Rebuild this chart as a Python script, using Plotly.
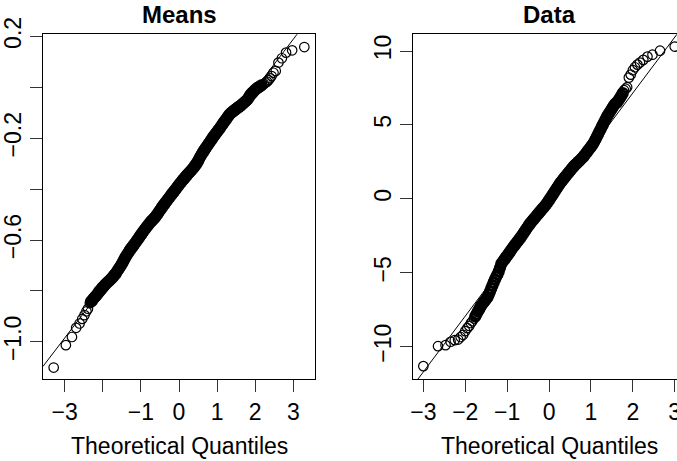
import plotly.graph_objects as go

# ---------------- Means panel (Q-Q points) ----------------
means_theoretical = [
    -3.29, -2.97, -2.81, -2.70, -2.61, -2.54, -2.48, -2.43, -2.39,
    -2.34, -2.31, -2.28, -2.25, -2.22, -2.19, -2.16, -2.13, -2.10, -2.07, -2.04,
    -2.01, -1.98, -1.95, -1.92, -1.89, -1.86, -1.83, -1.80, -1.77, -1.74,
    -1.71, -1.68, -1.65, -1.62, -1.59, -1.56, -1.53, -1.50, -1.47, -1.44,
    -1.41, -1.38, -1.35, -1.32, -1.29, -1.26, -1.23, -1.20, -1.17, -1.14,
    -1.11, -1.08, -1.05, -1.02, -0.99, -0.96, -0.93, -0.90, -0.87, -0.84,
    -0.81, -0.78, -0.75, -0.72, -0.69, -0.66, -0.63, -0.60, -0.57, -0.54,
    -0.51, -0.48, -0.45, -0.42, -0.39, -0.36, -0.33, -0.30, -0.27, -0.24,
    -0.21, -0.18, -0.15, -0.12, -0.09, -0.06, -0.03, 0.00, 0.03, 0.06,
    0.09, 0.12, 0.15, 0.18, 0.21, 0.24, 0.27, 0.30, 0.33, 0.36,
    0.39, 0.42, 0.45, 0.48, 0.51, 0.54, 0.57, 0.60, 0.63, 0.66,
    0.69, 0.72, 0.75, 0.78, 0.81, 0.84, 0.87, 0.90, 0.93, 0.96,
    0.99, 1.02, 1.05, 1.08, 1.11, 1.14, 1.17, 1.20, 1.23, 1.26,
    1.29, 1.32, 1.35, 1.38, 1.41, 1.44, 1.47, 1.50, 1.53, 1.56,
    1.59, 1.62, 1.65, 1.68, 1.71, 1.74, 1.77, 1.80, 1.83, 1.86,
    1.89, 1.92, 1.95, 1.98, 2.01, 2.04, 2.07, 2.10, 2.13, 2.16,
    2.19, 2.23, 2.27, 2.31, 2.35, 2.39, 2.43, 2.48, 2.54, 2.61,
    2.70, 2.81, 2.97, 3.29,
]
means_sample = [
    -1.101, -1.013, -0.981, -0.945, -0.928, -0.910, -0.895, -0.880, -0.870,
    -0.848, -0.842, -0.838, -0.831, -0.826, -0.821, -0.816, -0.810, -0.803, -0.799, -0.793,
    -0.787, -0.783, -0.777, -0.773, -0.768, -0.764, -0.760, -0.755, -0.751, -0.746,
    -0.740, -0.735, -0.730, -0.722, -0.715, -0.708, -0.701, -0.694, -0.686, -0.677,
    -0.669, -0.661, -0.654, -0.647, -0.640, -0.634, -0.628, -0.622, -0.616, -0.610,
    -0.603, -0.597, -0.590, -0.584, -0.578, -0.571, -0.565, -0.559, -0.553, -0.547,
    -0.541, -0.536, -0.530, -0.525, -0.521, -0.516, -0.511, -0.505, -0.499, -0.492,
    -0.485, -0.479, -0.472, -0.466, -0.460, -0.454, -0.448, -0.442, -0.436, -0.430,
    -0.424, -0.418, -0.413, -0.407, -0.401, -0.395, -0.389, -0.383, -0.377, -0.372,
    -0.366, -0.361, -0.356, -0.350, -0.345, -0.340, -0.335, -0.330, -0.325, -0.320,
    -0.314, -0.308, -0.302, -0.295, -0.287, -0.278, -0.270, -0.262, -0.255, -0.248,
    -0.241, -0.235, -0.228, -0.221, -0.215, -0.208, -0.202, -0.195, -0.189, -0.183,
    -0.177, -0.171, -0.165, -0.159, -0.152, -0.146, -0.139, -0.133, -0.127, -0.121,
    -0.114, -0.108, -0.103, -0.099, -0.096, -0.092, -0.089, -0.085, -0.082, -0.078,
    -0.075, -0.072, -0.068, -0.064, -0.060, -0.056, -0.052, -0.047, -0.040, -0.033,
    -0.027, -0.022, -0.018, -0.013, -0.009, -0.005, -0.002, 0.001, 0.004, 0.007,
    0.010, 0.013, 0.018, 0.022, 0.028, 0.035, 0.044, 0.057, 0.064, 0.097,
    0.114, 0.136, 0.145, 0.158,
]
means_line_intercept = -0.398
means_line_slope = 0.1956

# ---------------- Data panel (Q-Q points) ----------------
data_theoretical = [
    -3.00, -2.65, -2.47, -2.35, -2.25, -2.17, -2.11, -2.05, -2.00, -1.95,
    -1.905, -1.865, -1.83, -1.79, -1.76, -1.73, -1.70, -1.67, -1.645, -1.62,
    -1.59, -1.56, -1.53, -1.50, -1.47, -1.44, -1.41, -1.38, -1.35, -1.32,
    -1.29, -1.26, -1.23, -1.20, -1.17, -1.14, -1.11, -1.08, -1.05, -1.02,
    -0.99, -0.96, -0.93, -0.90, -0.87, -0.84, -0.81, -0.78, -0.75, -0.72,
    -0.69, -0.66, -0.63, -0.60, -0.57, -0.54, -0.51, -0.48, -0.45, -0.42,
    -0.39, -0.36, -0.33, -0.30, -0.27, -0.24, -0.21, -0.18, -0.15, -0.12,
    -0.09, -0.06, -0.03, 0.00, 0.03, 0.06, 0.09, 0.12, 0.15, 0.18,
    0.21, 0.24, 0.27, 0.30, 0.33, 0.36, 0.39, 0.42, 0.45, 0.48,
    0.51, 0.54, 0.57, 0.60, 0.63, 0.66, 0.69, 0.72, 0.75, 0.78,
    0.81, 0.84, 0.87, 0.90, 0.93, 0.96, 0.99, 1.02, 1.05, 1.08,
    1.11, 1.14, 1.17, 1.20, 1.23, 1.26, 1.29, 1.32, 1.35, 1.38,
    1.41, 1.44, 1.47, 1.50, 1.53, 1.56, 1.59,
    1.62, 1.645, 1.67, 1.70, 1.73, 1.76, 1.79, 1.83, 1.865, 1.905,
    1.95, 2.00, 2.05, 2.11, 2.17, 2.25, 2.35, 2.47, 2.65, 3.00,
]
data_sample = [
    -11.32, -9.97, -9.90, -9.67, -9.56, -9.52, -9.35, -9.20, -8.95, -8.75,
    -8.60, -8.40, -8.28, -8.10, -7.95, -7.80, -7.62, -7.48, -7.35, -7.22,
    -7.12, -7.00, -6.89, -6.78, -6.67, -6.49, -6.28, -6.06, -5.85, -5.64,
    -5.44, -5.28, -5.11, -4.91, -4.66, -4.40, -4.28, -4.16, -4.05, -3.93,
    -3.81, -3.69, -3.57, -3.45, -3.33, -3.21, -3.10, -2.99, -2.88, -2.77,
    -2.66, -2.53, -2.41, -2.28, -2.16, -2.03, -1.91, -1.78, -1.66, -1.56,
    -1.46, -1.36, -1.26, -1.15, -1.05, -0.95, -0.85, -0.75, -0.65, -0.55,
    -0.45, -0.34, -0.22, -0.09, 0.04, 0.17, 0.30, 0.43, 0.56, 0.69,
    0.82, 0.95, 1.08, 1.18, 1.29, 1.40, 1.50, 1.61, 1.71, 1.82,
    1.92, 2.03, 2.13, 2.23, 2.31, 2.39, 2.48, 2.56, 2.64, 2.73,
    2.81, 2.92, 3.03, 3.14, 3.26, 3.37, 3.48, 3.60, 3.71, 3.86,
    4.03, 4.20, 4.37, 4.54, 4.71, 4.88, 5.04, 5.21, 5.38, 5.55,
    5.69, 5.82, 5.96, 6.09, 6.23, 6.36, 6.46,
    6.50, 6.62, 6.72, 6.85, 7.00, 7.15, 7.35, 7.45, 7.55, 8.20,
    8.40, 8.70, 8.90, 9.08, 9.22, 9.40, 9.62, 9.75, 10.02, 10.30,
]
data_line_intercept = -0.39
data_line_slope = 3.773

# ---------------- axis ticks ----------------
x_ticks = [-3, -2, -1, 0, 1, 2, 3]
means_x_ticktext = ["\u22123", "", "\u22121", "0", "1", "2", "3"]
data_x_ticktext = ["\u22123", "\u22122", "\u22121", "0", "1", "2", "3"]
means_y_ticks = [0.2, 0.0, -0.2, -0.4, -0.6, -0.8, -1.0]
means_y_ticktext = ["0.2", "", "\u22120.2", "", "\u22120.6", "", "\u22121.0"]
data_y_ticks = [-10, -5, 0, 5, 10]
data_y_ticktext = ["\u221210", "\u22125", "0", "5", "10"]

means_x_range = [-3.57, 3.57]
means_y_range = [-1.146, 0.208]
data_x_range = [-3.24, 3.055]
data_y_range = [-12.19, 11.13]

FONT = "Liberation Sans, Arial, sans-serif"
W, H = 677, 461


def ring_widths(xs):
    """Where the sorted points crowd together (overlapping circles), the
    overlapping outlines merge into a solid band: draw those rings thicker."""
    out = []
    for i in range(len(xs)):
        gaps = []
        if i > 0:
            gaps.append(xs[i] - xs[i - 1])
        if i < len(xs) - 1:
            gaps.append(xs[i + 1] - xs[i])
        out.append(2.7 if max(gaps) <= 0.0301 else 1.2)
    return out


fig = go.Figure()

fig.add_trace(go.Scatter(
    x=means_theoretical, y=means_sample, mode="markers",
    marker=dict(symbol="circle-open", size=9.5, color="black",
                line=dict(width=ring_widths(means_theoretical), color="black")),
    xaxis="x", yaxis="y", showlegend=False))
fig.add_trace(go.Scatter(
    x=means_x_range,
    y=[means_line_intercept + means_line_slope * v for v in means_x_range],
    mode="lines", line=dict(color="black", width=1),
    xaxis="x", yaxis="y", showlegend=False))

fig.add_trace(go.Scatter(
    x=data_theoretical, y=data_sample, mode="markers",
    marker=dict(symbol="circle-open", size=9.5, color="black",
                line=dict(width=ring_widths(data_theoretical), color="black")),
    xaxis="x2", yaxis="y2", showlegend=False))
fig.add_trace(go.Scatter(
    x=data_x_range,
    y=[data_line_intercept + data_line_slope * v for v in data_x_range],
    mode="lines", line=dict(color="black", width=1),
    xaxis="x2", yaxis="y2", showlegend=False))

ydom = [(H - 379) / H, (H - 34.3) / H]
TICKFONT = dict(family=FONT, size=23, color="black")
common_x = dict(showgrid=False, zeroline=False, showline=True, linecolor="black", linewidth=1,
                ticks="outside", ticklen=12, tickcolor="#333", tickwidth=1, automargin=False,
                ticklabeloverflow="allow", tickfont=TICKFONT, fixedrange=True)
common_y = dict(showgrid=False, zeroline=False, showline=True, linecolor="black", linewidth=1,
                ticks="outside", ticklen=12, tickcolor="#333", tickwidth=1, tickangle=-90,
                automargin=False, ticklabeloverflow="allow", tickfont=TICKFONT, fixedrange=True)

fig.update_layout(
    width=W, height=H,
    margin=dict(l=0, r=0, t=0, b=0, autoexpand=False),
    paper_bgcolor="white", plot_bgcolor="white",
    xaxis=dict(common_x, domain=[43 / W, 315 / W], range=means_x_range, mirror=True,
               tickvals=x_ticks, ticktext=means_x_ticktext, anchor="y"),
    yaxis=dict(common_y, domain=ydom, range=means_y_range, mirror=True,
               tickvals=means_y_ticks, ticktext=means_y_ticktext, anchor="x"),
    xaxis2=dict(common_x, domain=[413.3 / W, 1.0], range=data_x_range, mirror=True,
                tickvals=x_ticks, ticktext=data_x_ticktext, anchor="y2"),
    yaxis2=dict(common_y, domain=ydom, range=data_y_range, mirror=False,
                tickvals=data_y_ticks, ticktext=data_y_ticktext, anchor="x2"),
    annotations=[
        dict(text="<b>Means</b>", x=179 / W, y=(H - 15) / H, xref="paper", yref="paper",
             showarrow=False, font=dict(family=FONT, size=24, color="black"),
             xanchor="center", yanchor="middle"),
        dict(text="<b>Data</b>", x=549 / W, y=(H - 15) / H, xref="paper", yref="paper",
             showarrow=False, font=dict(family=FONT, size=24, color="black"),
             xanchor="center", yanchor="middle"),
        dict(text="Theoretical Quantiles", x=179 / W, y=(H - 446) / H, xref="paper", yref="paper",
             showarrow=False, font=dict(family=FONT, size=23, color="black"),
             xanchor="center", yanchor="middle"),
        dict(text="Theoretical Quantiles", x=549 / W, y=(H - 446) / H, xref="paper", yref="paper",
             showarrow=False, font=dict(family=FONT, size=23, color="black"),
             xanchor="center", yanchor="middle"),
    ],
)

fig.write_html("out.html")
